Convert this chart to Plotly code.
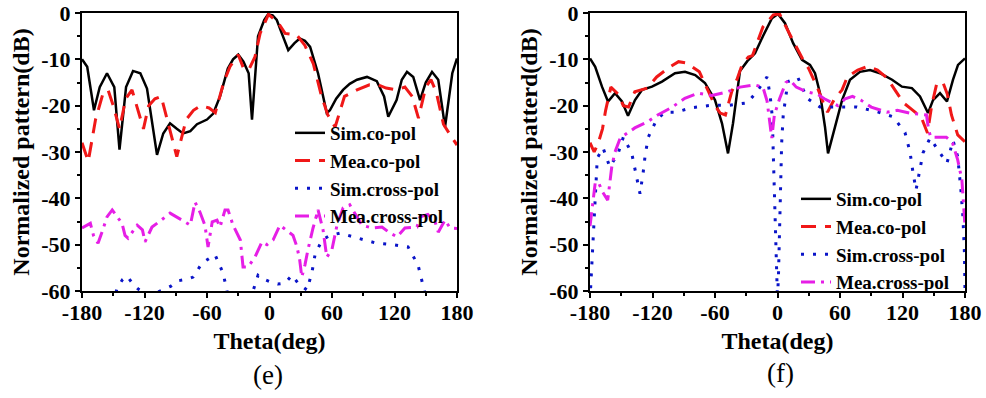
import plotly.graph_objects as go

# ---------------- (e) data ----------------
e_sim_co_theta = [-180, -175, -168.5, -163, -156, -149, -144, -137.7, -131, -124, -117.6, -108, -102, -95.5, -89, -83, -76, -69.6, -60, -54, -47.5, -40, -35, -30, -25, -20, -16.8, -11, -5, -1.4, 3, 7, 12, 18, 24, 29, 34, 39, 46.6, 55, 58, 64, 70.6, 77, 84, 93.6, 103, 110, 114, 122, 127, 132, 138, 144.5, 150, 156, 162, 168.5, 175.5, 180]
e_sim_co_db = [-10, -11.6, -21, -16, -13, -16, -29.5, -16, -12.5, -13, -16.3, -30.6, -26, -23.8, -25, -26, -25.5, -24, -23, -21.7, -18, -12, -10, -9, -10.5, -13, -23, -5, -1.5, -0.3, -0.5, -1.5, -4.5, -8, -6.5, -5.5, -6, -7.3, -13, -21.6, -21, -18.5, -16.6, -15.3, -14.4, -13.8, -14.7, -18, -22.4, -18.8, -14.4, -12.7, -13.8, -18.8, -15, -12.7, -14.4, -24.6, -13, -9.8]

e_mea_co_theta = [-180, -174, -167, -160, -155, -150, -144, -138, -132, -126, -121, -116, -110, -104, -97, -89, -80, -73, -66, -58, -52, -44, -38, -30, -25, -20, -14, -9, -1, 8, 15, 26, 34, 42, 50, 56, 63, 72, 84, 96, 104, 112, 122, 130, 137, 143, 150, 155, 160, 167, 174, 180]
e_mea_co_db = [-28, -32, -23, -17.5, -16.6, -20, -25, -18.5, -16.6, -21, -25, -20, -18.5, -18, -24, -31, -23, -21, -20, -20.5, -21.5, -15, -11.6, -9, -11.9, -12.3, -9.5, -4.4, -0.3, -2, -4.4, -4.7, -7, -10.9, -18, -22, -24.6, -18, -16.6, -15.5, -15.5, -16.2, -16.6, -16, -18, -22.7, -16, -14.4, -17, -24, -26.5, -28.5]

e_sim_cross_theta = [-180, -160, -150, -146.4, -141, -136.8, -131, -126, -115, -103, -95, -87.8, -80, -73.4, -64.8, -58, -52.3, -44.6, -40.8, -35, -20, -15.8, -11, -5, 0.5, 8, 15, 21.6, 28, 36, 40.8, 43.7, 50.4, 58, 67.7, 85, 101.3, 118.6, 133, 142.6, 146.4, 152, 165, 180]
e_sim_cross_db = [-66, -65, -63, -59.4, -57.5, -56.8, -58.5, -59.6, -61, -59.8, -59, -57.8, -57.5, -57, -54, -53, -52.2, -56.1, -60, -63, -63, -60, -56.6, -57.5, -58, -58.5, -58.3, -56.6, -58.5, -59.8, -55.9, -52.2, -49, -48, -47.5, -48.6, -49.6, -50, -50.5, -54.4, -58.3, -63, -66, -66]

e_mea_cross_theta = [-180, -172, -169, -164.6, -160, -156, -151, -141.6, -138.7, -135.8, -127, -122, -119.5, -112.8, -105, -95.5, -84, -76, -71.5, -66.7, -62, -59, -55, -50.4, -47.5, -42.7, -39.8, -35, -28, -25.4, -20.6, -14, -7.2, -2.4, 3.4, 10, 22.6, 26.4, 29, 31, 34, 37, 41.8, 46.6, 51.4, 55, 60, 64.8, 70.6, 77, 88.8, 98.4, 108, 115.7, 122.4, 130, 141.6, 144.6, 152, 159, 162, 168.5, 173.3, 180]
e_mea_cross_db = [-46.4, -45.4, -48, -49.7, -46.8, -44, -42.5, -45.4, -48, -48.6, -45.8, -46.8, -49.4, -46.2, -44.9, -43.2, -44.7, -45.8, -40.8, -43, -45.8, -50.5, -45.1, -44.7, -46.2, -42.5, -42.5, -45.8, -49, -54.8, -54.8, -52.7, -49.4, -50, -49, -45.8, -48, -50.5, -53.3, -57, -54.4, -51, -46.4, -42.5, -46.8, -52.7, -51, -45.8, -42.1, -41.4, -45.8, -46.4, -46.2, -47.5, -48.3, -46.4, -46.2, -44, -43.5, -45.1, -47.3, -44.7, -46.4, -46.5]

# ---------------- (f) data ----------------
f_sim_co_theta = [-180, -175, -168.5, -162.7, -156, -149.3, -143.5, -136.8, -130, -120.5, -110.9, -98.4, -88.8, -79, -69.6, -60, -53.3, -47.5, -42.7, -38.5, -36, -29, -21.6, -14, -5.3, 0.5, 7.2, 15, 23.5, 31.2, 36, 40.8, 45.6, 48.5, 55.2, 62, 69.6, 79.2, 88.8, 98.4, 110, 119.5, 129, 136.8, 144.5, 149.3, 156, 162.7, 168.5, 173.3, 180]
f_sim_co_db = [-9.8, -11.6, -15.9, -19.1, -17.3, -19.1, -22.2, -18.8, -16.6, -15.9, -14.8, -13, -12.7, -13.4, -15.1, -18.8, -23.8, -30.3, -23.8, -16, -12.5, -10.4, -8.7, -5, -1.1, -0.2, -2.2, -6.5, -10.1, -11.2, -13, -17.3, -24.6, -30.3, -24.6, -18.8, -14.4, -12.7, -12.3, -13, -14.4, -15.9, -16.2, -18, -21.6, -18.8, -17.3, -19.1, -14.4, -11.2, -9.8]

f_mea_co_theta = [-180, -176, -172, -168, -165, -160, -153, -148, -143, -137, -125, -116, -103, -95, -87, -75, -67, -60, -55, -50, -44, -39, -34, -28, -24, -14, -4, 2, 12, 17, 24.5, 30, 39, 44, 48, 55, 62, 67, 77, 87, 96, 105, 115, 121, 130, 138, 144, 148, 153, 159, 163, 167, 173, 180]
f_mea_co_db = [-28, -30, -28, -25, -21, -16, -17.5, -20, -20.3, -17, -16.2, -13.8, -11.6, -10.5, -10.8, -12.7, -16.6, -20, -21.6, -22, -17, -14.4, -11.2, -9.5, -9.2, -3, -0.4, -0.2, -4.7, -7, -10.1, -12, -16.5, -19.4, -21.4, -18.4, -16.6, -13.8, -12.3, -11.5, -12.3, -14, -17.3, -19.4, -21, -22.5, -25.9, -20, -15.1, -15.1, -17.5, -22, -26.3, -27.8]

f_sim_cross_theta = [-180, -178.5, -177.5, -176.5, -175.5, -174.5, -173, -167.5, -161, -153, -148, -140, -136, -132, -129, -127, -124, -116, -108, -98, -81, -63, -46, -29, -20, -10, -7, -5, -4, -3, -2, -1, 0, 1, 2, 3, 4, 5.5, 10, 19.7, 28.3, 40.8, 58, 76.3, 95.5, 111, 122.4, 127.2, 130, 133, 139.7, 146.4, 156, 162.7, 168.5, 173, 176, 178, 179.5, 180]
f_sim_cross_db = [-62, -56, -52, -48, -43.6, -39.3, -31.3, -29.1, -33.2, -30.3, -26.8, -30.2, -34.6, -39, -34.5, -30.6, -26.8, -23, -21.4, -21.4, -20.4, -19.9, -19.9, -19.4, -17, -13.8, -18, -22.4, -30.7, -39, -47.5, -56, -62, -56, -45, -35, -28, -22, -14.8, -14, -18.4, -20.3, -20.3, -20.3, -21.3, -22.4, -25.8, -30, -34.3, -38.2, -30.2, -27, -30.2, -32.4, -27.5, -31, -38, -44, -52, -60]

f_mea_cross_theta = [-180, -178, -175, -172, -168, -163, -161, -159, -156, -151, -137, -125, -115, -101, -89, -76, -63, -48, -36, -22, -14, -10, -5.5, -3, 2, 8, 12, 18, 28, 38, 45, 53, 58, 65, 72, 80, 90, 105, 115, 127, 135, 143, 145, 147, 155, 162, 168, 173, 177, 180]
f_mea_cross_db = [-46, -41.8, -36.7, -36.5, -38.6, -40.4, -36, -33, -30, -27, -24.8, -23.5, -22, -20.3, -18.4, -17.3, -17.8, -17, -16, -15.5, -16, -19, -27, -22, -18.5, -15, -14.5, -16, -17, -17.5, -18.5, -19.5, -20, -18.5, -18, -18.8, -20.3, -21.4, -21, -21.6, -21.8, -22, -25, -26.8, -26.8, -26.8, -28, -31.7, -36, -46]

series_names = ["Sim.co-pol", "Mea.co-pol", "Sim.cross-pol", "Mea.cross-pol"]
x_tick_vals = [-180, -120, -60, 0, 60, 120, 180]
x_tick_text = ["-180", "-120", "-60", "0", "60", "120", "180"]
y_tick_vals = [0, -10, -20, -30, -40, -50, -60]
y_tick_text = ["0", "-10", "-20", "-30", "-40", "-50", "-60"]
y_titles = ["Normalized pattern(dB)", "Normalized patterd(dB)"]
x_title = "Theta(deg)"
panel_labels = ["(e)", "(f)"]

styles = [
    dict(color="#000000", width=2.5, dash="solid"),
    dict(color="#F01818", width=3, dash="15px,9px"),
    dict(color="#0A14C8", width=3, dash="3px,9px"),
    dict(color="#E61EE6", width=3, dash="14px,6px,3px,6px"),
]

FONT = "Liberation Serif"
fig = go.Figure()

panels = [
    ([e_sim_co_theta, e_mea_co_theta, e_sim_cross_theta, e_mea_cross_theta],
     [e_sim_co_db, e_mea_co_db, e_sim_cross_db, e_mea_cross_db], "x", "y", "legend"),
    ([f_sim_co_theta, f_mea_co_theta, f_sim_cross_theta, f_mea_cross_theta],
     [f_sim_co_db, f_mea_co_db, f_sim_cross_db, f_mea_cross_db], "x2", "y2", "legend2"),
]
for thetas, dbs, xa, ya, lg in panels:
    for name, th, db, st in zip(series_names, thetas, dbs, styles):
        fig.add_trace(go.Scatter(x=th, y=db, mode="lines", name=name, line=st,
                                 xaxis=xa, yaxis=ya, legend=lg, showlegend=True))

W, H = 986, 398
TITLE_FONT = dict(family=FONT, size=24, color="black", weight="bold")
LEG_FONT = dict(family=FONT, size=19, color="black", weight="bold")
axis_common = dict(
    automargin=False,
    showline=True, linecolor="black", linewidth=2, mirror=True,
    ticks="outside", ticklen=5, tickwidth=2, tickcolor="black",
    showgrid=False, zeroline=False,
    tickfont=dict(family=FONT, size=22, color="black", weight="bold"),
)
xcommon = dict(axis_common, range=[-180, 180], tickvals=x_tick_vals, ticktext=x_tick_text,
               ticklabelstandoff=-4,
               minor=dict(tickvals=[-150, -90, -30, 30, 90, 150], ticklen=3, tickwidth=2, ticks="outside", tickcolor="black"),
               title=dict(text=x_title, font=TITLE_FONT, standoff=8))
ycommon = dict(axis_common, range=[-60, 0], tickvals=y_tick_vals, ticktext=y_tick_text,
               minor=dict(dtick=5, ticklen=3, tickwidth=2, ticks="outside", tickcolor="black"))

fig.update_layout(
    template="none",
    width=W, height=H,
    margin=dict(l=0, r=0, t=13, b=107, autoexpand=False),
    paper_bgcolor="white", plot_bgcolor="white",
    xaxis=dict(xcommon, domain=[82 / W, 457 / W], anchor="y"),
    yaxis=dict(ycommon, domain=[0, 1], anchor="x",
               title=dict(text=y_titles[0], font=TITLE_FONT, standoff=5)),
    xaxis2=dict(xcommon, domain=[590 / W, 965 / W], anchor="y2"),
    yaxis2=dict(ycommon, domain=[0, 1], anchor="x2",
                title=dict(text=y_titles[1], font=TITLE_FONT, standoff=5)),
    legend=dict(x=290 / W, y=(291 - 114) / 278, xanchor="left", yanchor="top",
                bgcolor="rgba(0,0,0,0)", borderwidth=0, tracegroupgap=0, font=LEG_FONT),
    legend2=dict(x=796 / W, y=(291 - 180) / 278, xanchor="left", yanchor="top",
                 bgcolor="rgba(0,0,0,0)", borderwidth=0, tracegroupgap=0, font=LEG_FONT),
    annotations=[
        dict(text=panel_labels[0], x=268 / W, y=(291 - 375) / 278, xref="paper", yref="paper",
             xanchor="center", yanchor="middle", showarrow=False,
             font=dict(family=FONT, size=27, color="black")),
        dict(text=panel_labels[1], x=780 / W, y=(291 - 373) / 278, xref="paper", yref="paper",
             xanchor="center", yanchor="middle", showarrow=False,
             font=dict(family=FONT, size=27, color="black")),
    ],
)

fig.write_html("out.html")
